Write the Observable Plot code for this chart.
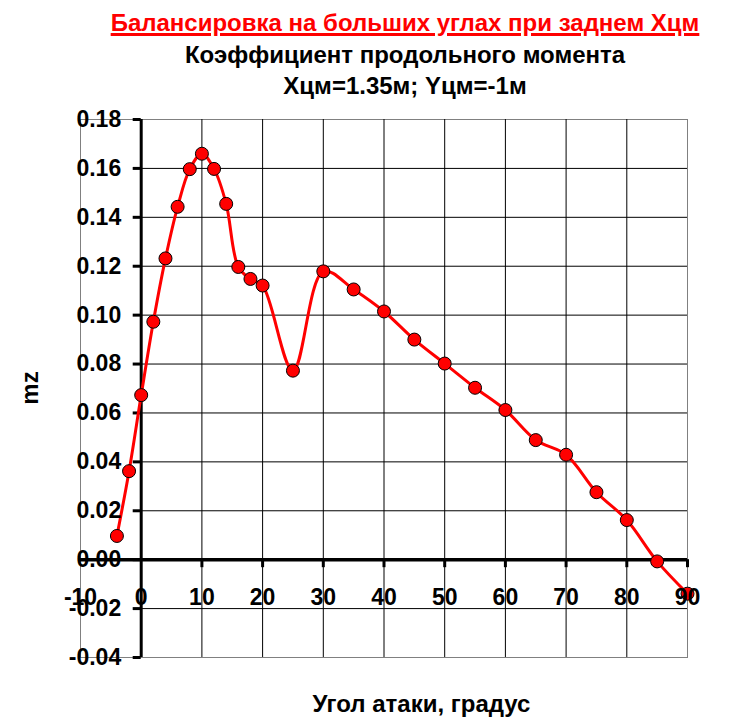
<!DOCTYPE html>
<html><head><meta charset="utf-8">
<script src="https://cdn.jsdelivr.net/npm/d3@7"></script>
<script src="https://cdn.jsdelivr.net/npm/@observablehq/plot@0.6"></script>
<style>
body{margin:0;background:#fff;font-family:"Liberation Sans",Arial,sans-serif;}
#wrap{position:relative;width:745px;height:720px;overflow:hidden;}
.t{position:absolute;left:0;width:810px;text-align:center;font-weight:bold;font-size:24px;line-height:28px;white-space:nowrap;z-index:2;}
#chart{position:absolute;left:0;top:100px;z-index:1;}
</style></head><body>
<div id="wrap">
<div id="chart"></div>
<div class="t" style="top:9px;color:#ff0000;"><span style="text-decoration:underline;text-decoration-thickness:3px;text-underline-offset:2px;">Балансировка на больших углах при заднем Хцм</span></div>
<div class="t" style="top:41px;">Коэффициент продольного момента</div>
<div class="t" style="top:72px;">Хцм=1.35м; Yцм=-1м</div>
<div class="t" style="top:690px;width:843px;">Угол атаки, градус</div>
<div class="t" style="top:374px;left:-375px;width:810px;transform:rotate(-90deg);">mz</div>
</div>
<script>
const angles = [-4,-2,0,2,4,6,8,10,12,14,16,18,20,25,30,35,40,45,50,55,60,65,70,75,80,85,90];
const mz = [0.0097,0.0362,0.0673,0.0973,0.1232,0.1443,0.1597,0.1660,0.1598,0.1455,0.1197,0.1148,0.1121,0.0773,0.1179,0.1105,0.1015,0.0900,0.0802,0.0703,0.0612,0.0489,0.0429,0.0276,0.0162,-0.0007,-0.0139];
const xTicks = [-10,0,10,20,30,40,50,60,70,80,90];
const yTicks = [-0.04,-0.02,0.00,0.02,0.04,0.06,0.08,0.10,0.12,0.14,0.16,0.18];
const xGrid = [10,20,30,40,50,60,70,80];
const yGrid = [-0.02,0,0.02,0.04,0.06,0.08,0.10,0.12,0.14,0.16];

const data = angles.map((a,i)=>({a, m: mz[i]}));
const xDom = [-10, 90], yDom = [-0.04, 0.18];
const W = 745, H = 620, mL = 80, mR = 58, mT = 19, mB = 63;
const pxX = (xDom[1]-xDom[0])/(W-mL-mR);
const pxY = (yDom[1]-yDom[0])/(H-mT-mB);
const tickLen = 8;

const chart = Plot.plot({
  width: W, height: H,
  marginLeft: mL, marginRight: mR, marginTop: mT, marginBottom: mB,
  x: {domain: xDom, axis: null},
  y: {domain: yDom, axis: null},
  style: {fontFamily: "Liberation Sans, Arial, sans-serif", background: "#fff"},
  marks: [
    Plot.frame({stroke: "#808080", strokeWidth: 1}),
    Plot.ruleY(yGrid, {x1: 0, x2: xDom[1], stroke: "#000", strokeWidth: 1}),
    Plot.ruleX(xGrid, {y1: yDom[0], y2: yDom[1], stroke: "#000", strokeWidth: 1}),
    Plot.ruleX([0], {y1: yDom[0], y2: yDom[1], stroke: "#000", strokeWidth: 3}),
    Plot.ruleY([0], {x1: xDom[0], x2: xDom[1], stroke: "#000", strokeWidth: 3.5}),
    Plot.ruleY(yTicks, {x1: -tickLen*pxX, x2: 0, stroke: "#000", strokeWidth: 3}),
    Plot.ruleX(xTicks.filter(d=>d>0), {y1: -tickLen*pxY, y2: 0, stroke: "#000", strokeWidth: 3}),
    Plot.line(data, {x: "a", y: "m", curve: "catmull-rom", stroke: "#ff0000", strokeWidth: 3}),
    Plot.dot(data, {x: "a", y: "m", r: 6.5, fill: "#ff0000", stroke: "#000", strokeWidth: 1}),
    Plot.text(yTicks, {x: 0, y: d=>d, text: d=>d.toFixed(2), dx: -20, textAnchor: "end", fontSize: 23, fontWeight: "bold", fill: "#000"}),
    Plot.text(xTicks, {x: d=>d, y: 0, text: d=>String(d), dy: 38, textAnchor: "middle", fontSize: 23, fontWeight: "bold", fill: "#000"})
  ]
});
document.getElementById("chart").appendChild(chart);
</script>
</body></html>
